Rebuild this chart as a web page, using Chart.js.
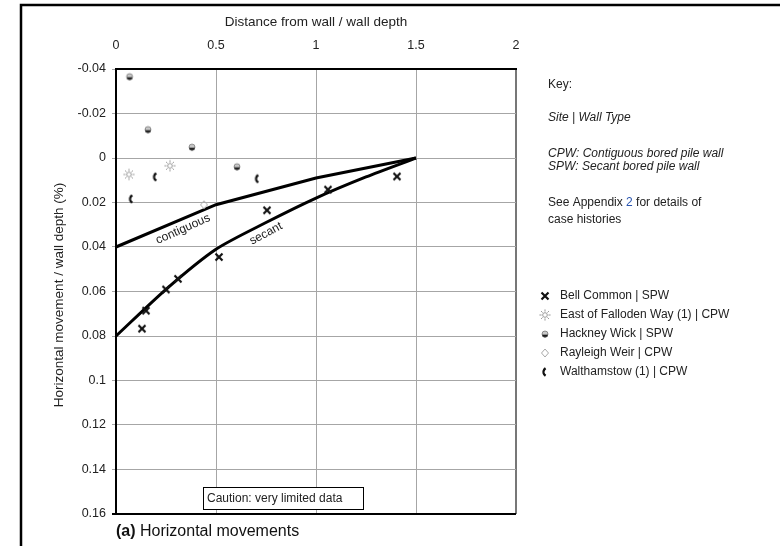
<!DOCTYPE html>
<html lang="en">
<head>
  <meta charset="UTF-8">
  <title>Horizontal movements</title>
  <script src="https://cdn.jsdelivr.net/npm/chart.js"></script>
  <style>
    html, body { margin: 0; padding: 0; background: #fff; }
    canvas { display: block; }
  </style>
</head>
<body>
  <canvas id="chart" width="780" height="546"></canvas>

  <script>
    // axis ticks
    const xTicks = [0, 0.5, 1, 1.5, 2];
    const xTickLabels = ['0', '0.5', '1', '1.5', '2'];
    const yTicks = [-0.04, -0.02, 0, 0.02, 0.04, 0.06, 0.08, 0.1, 0.12, 0.14, 0.16];
    const yTickLabels = ['-0.04', '-0.02', '0', '0.02', '0.04', '0.06', '0.08', '0.1', '0.12', '0.14', '0.16'];

    // case histories (distance / depth, movement / depth %)
    const bellCommonX = [0.13, 0.15, 0.25, 0.31, 0.515, 0.755, 1.06, 1.405];
    const bellCommonY = [0.0767, 0.0686, 0.0591, 0.0543, 0.0445, 0.0235, 0.0142, 0.0083];
    const fallodenX = [0.065, 0.27];
    const fallodenY = [0.0074, 0.0035];
    const hackneyX = [0.068, 0.16, 0.38, 0.605];
    const hackneyY = [-0.0366, -0.0128, -0.0049, 0.0039];
    const rayleighX = [0.44];
    const rayleighY = [0.021];
    const walthamstowX = [0.078, 0.198, 0.708];
    const walthamstowY = [0.0184, 0.0085, 0.0093];

    // design envelopes
    const contiguousX = [0, 0.5, 1, 1.5];
    const contiguousY = [0.04, 0.021, 0.009, 0];
    const secantX = [0, 0.25, 0.5, 0.75, 1, 1.25, 1.5];
    const secantY = [0.08, 0.059, 0.041, 0.029, 0.018, 0.0085, 0];

    const legendNames = ['Bell Common | SPW', 'East of Falloden Way (1) | CPW', 'Hackney Wick | SPW', 'Rayleigh Weir | CPW', 'Walthamstow (1) | CPW'];

    const FONT = "'Liberation Sans', Arial, sans-serif";
    const zip = (xs, ys) => xs.map((x, i) => ({ x: x, y: ys[i] }));

    function makeMarker(kind) {
      const c = document.createElement('canvas');
      c.width = 14; c.height = 14;
      const g = c.getContext('2d');
      const m = 7;
      if (kind === 'cross') {
        g.strokeStyle = '#111'; g.lineWidth = 2.2;
        g.beginPath();
        g.moveTo(m - 3.5, m - 3.5); g.lineTo(m + 3.5, m + 3.5);
        g.moveTo(m + 3.5, m - 3.5); g.lineTo(m - 3.5, m + 3.5);
        g.stroke();
      } else if (kind === 'sun') {
        g.strokeStyle = '#9a9a9a'; g.lineWidth = 1;
        g.beginPath(); g.arc(m, m, 2.3, 0, Math.PI * 2); g.stroke();
        g.beginPath();
        for (let k = 0; k < 8; k++) {
          const a = k * Math.PI / 4;
          g.moveTo(m + Math.cos(a) * 3.4, m + Math.sin(a) * 3.4);
          g.lineTo(m + Math.cos(a) * 5.6, m + Math.sin(a) * 5.6);
        }
        g.stroke();
      } else if (kind === 'dot') {
        g.fillStyle = '#c8c8c8';
        g.beginPath(); g.arc(m, m, 3, Math.PI, 0); g.fill();
        g.fillStyle = '#1a1a1a';
        g.beginPath(); g.arc(m, m + 0.4, 3, 0, Math.PI); g.fill();
        g.strokeStyle = '#555'; g.lineWidth = 0.6;
        g.beginPath(); g.arc(m, m, 3, 0, Math.PI * 2); g.stroke();
      } else if (kind === 'diamond') {
        g.strokeStyle = '#a8a8a8'; g.lineWidth = 1;
        g.beginPath();
        g.moveTo(m, m - 4); g.lineTo(m + 3.5, m); g.lineTo(m, m + 4); g.lineTo(m - 3.5, m); g.closePath();
        g.stroke();
      } else if (kind === 'crescent') {
        g.strokeStyle = '#111'; g.lineWidth = 2.4;
        g.beginPath(); g.arc(m + 3, m, 4.5, Math.PI * 0.68, Math.PI * 1.32); g.stroke();
      }
      return c;
    }

    const markers = ['cross', 'sun', 'dot', 'diamond', 'crescent'].map(makeMarker);

    const pointSets = [
      zip(bellCommonX, bellCommonY),
      zip(fallodenX, fallodenY),
      zip(hackneyX, hackneyY),
      zip(rayleighX, rayleighY),
      zip(walthamstowX, walthamstowY)
    ];

    const datasets = pointSets.map((pts, i) => ({
      label: legendNames[i],
      data: pts,
      pointStyle: markers[i],
      pointRadius: 5,
      showLine: false
    }));
    datasets.push({
      label: 'contiguous', data: zip(contiguousX, contiguousY),
      showLine: true, borderColor: '#000', borderWidth: 3, pointRadius: 0, tension: 0
    });
    datasets.push({
      label: 'secant', data: zip(secantX, secantY),
      showLine: true, borderColor: '#000', borderWidth: 3, pointRadius: 0, tension: 0.25
    });

    const decorations = {
      id: 'decorations',
      afterDraw(chart) {
        const ctx = chart.ctx;
        const xs = chart.scales.x, ys = chart.scales.y;
        const area = chart.chartArea;
        ctx.save();

        // outer frame
        ctx.strokeStyle = '#000'; ctx.lineWidth = 2.5;
        ctx.strokeRect(21, 5, 800, 600);

        // axis titles
        ctx.fillStyle = '#222';
        ctx.font = '13.5px ' + FONT;
        ctx.textAlign = 'center'; ctx.textBaseline = 'middle';
        ctx.fillText('Distance from wall / wall depth', (area.left + area.right) / 2, 22);
        ctx.save();
        ctx.translate(59, 295);
        ctx.rotate(-Math.PI / 2);
        ctx.fillText('Horizontal movement / wall depth (%)', 0, 0);
        ctx.restore();

        // line labels along the envelopes
        ctx.font = '12px ' + FONT;
        ctx.save();
        ctx.translate(xs.getPixelForValue(0.335), ys.getPixelForValue(0.032));
        ctx.rotate(-24 * Math.PI / 180);
        ctx.fillText('contiguous', 0, 0);
        ctx.restore();
        ctx.save();
        ctx.translate(xs.getPixelForValue(0.75), ys.getPixelForValue(0.034));
        ctx.rotate(-28 * Math.PI / 180);
        ctx.fillText('secant', 0, 0);
        ctx.restore();

        // caution box
        ctx.fillStyle = '#fff';
        ctx.fillRect(203, 487, 160, 22);
        ctx.strokeStyle = '#000'; ctx.lineWidth = 1;
        ctx.strokeRect(203.5, 487.5, 160, 22);
        ctx.fillStyle = '#222';
        ctx.textAlign = 'left';
        ctx.fillText('Caution: very limited data', 207, 498.5);

        // caption
        ctx.textBaseline = 'alphabetic';
        ctx.fillStyle = '#111';
        ctx.font = 'bold 16px ' + FONT;
        ctx.fillText('(a)', 116, 536);
        const w = ctx.measureText('(a) ').width;
        ctx.font = '16px ' + FONT;
        ctx.fillText('Horizontal movements', 116 + w, 536);

        // key text
        ctx.textBaseline = 'middle';
        ctx.fillStyle = '#222';
        ctx.font = '12px ' + FONT;
        ctx.fillText('Key:', 548, 85);
        ctx.font = 'italic 12px ' + FONT;
        ctx.fillText('Site | Wall Type', 548, 118);
        ctx.fillText('CPW: Contiguous bored pile wall', 548, 154);
        ctx.fillText('SPW: Secant bored pile wall', 548, 167);
        ctx.font = '12px ' + FONT;
        const pre = 'See Appendix ';
        ctx.fillText(pre, 548, 203);
        const pw = ctx.measureText(pre).width;
        ctx.fillStyle = '#2a55b0';
        ctx.fillText('2', 548 + pw, 203);
        const tw = ctx.measureText('2').width;
        ctx.fillStyle = '#222';
        ctx.fillText(' for details of', 548 + pw + tw, 203);
        ctx.fillText('case histories', 548, 220);

        // legend
        legendNames.forEach((name, i) => {
          const y = 296 + i * 19;
          const mk = markers[i];
          ctx.drawImage(mk, 545 - mk.width / 2, y - mk.height / 2);
          ctx.fillStyle = '#222';
          ctx.fillText(name, 560, y);
        });

        ctx.restore();
      }
    };

    new Chart(document.getElementById('chart'), {
      type: 'scatter',
      data: { datasets: datasets },
      options: {
        responsive: false,
        animation: false,
        layout: { padding: { left: 0, top: 0, right: 264, bottom: 32 } },
        plugins: { legend: { display: false }, tooltip: { enabled: false } },
        scales: {
          x: {
            type: 'linear', position: 'top', min: 0, max: 2,
            afterBuildTicks: s => { s.ticks = xTicks.map(v => ({ value: v })); },
            afterFit: s => { s.height = 69; },
            ticks: {
              callback: (v, i) => xTickLabels[i],
              color: '#222', font: { family: FONT, size: 12.5 },
              padding: 16, maxRotation: 0, autoSkip: false
            },
            grid: {
              drawTicks: false,
              color: c => (c.index === xTicks.length - 1 ? '#777' : '#a6a6a6'),
              lineWidth: c => (c.index === xTicks.length - 1 ? 2 : 1)
            },
            border: { color: '#000', width: 2 }
          },
          y: {
            type: 'linear', reverse: true, min: -0.04, max: 0.16,
            afterBuildTicks: s => { s.ticks = yTicks.map(v => ({ value: v })); },
            afterFit: s => { s.width = 116; },
            ticks: {
              callback: (v, i) => yTickLabels[i],
              color: '#222', font: { family: FONT, size: 12.5 },
              padding: 6, autoSkip: false
            },
            grid: {
              tickLength: 4,
              color: c => (c.index === yTicks.length - 1 ? '#000' : '#a6a6a6'),
              lineWidth: c => (c.index === yTicks.length - 1 ? 2 : 1)
            },
            border: { color: '#000', width: 2 }
          }
        }
      },
      plugins: [decorations]
    });
  </script>
</body>
</html>
